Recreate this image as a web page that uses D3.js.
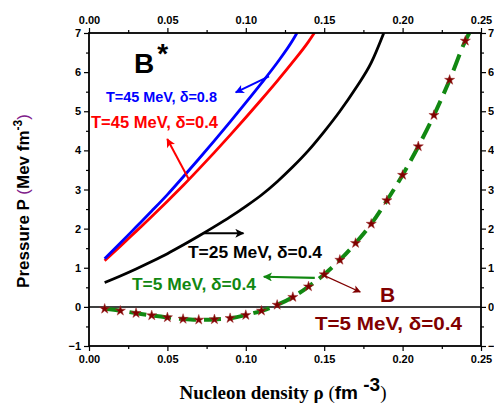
<!DOCTYPE html>
<html>
<head>
<meta charset="utf-8">
<script src="https://cdn.jsdelivr.net/npm/d3@7"></script>
<style>
  body { margin: 0; background: #fff; }
  svg { display: block; }
</style>
</head>
<body>
<div id="chart-area"></div>
<script>
// density values (fm^-3) and pressure (MeV fm^-3)
var rhoBlue = [0.01, 0.02, 0.03, 0.04, 0.05, 0.06, 0.07, 0.08, 0.09, 0.10, 0.11, 0.12, 0.13, 0.1326];
var pBlue   = [1.23, 1.63, 2.04, 2.45, 2.87, 3.32, 3.78, 4.25, 4.73, 5.22, 5.72, 6.24, 6.82, 7.0];

var rhoRed = [0.01, 0.02, 0.03, 0.04, 0.05, 0.06, 0.07, 0.08, 0.09, 0.10, 0.11, 0.12, 0.13, 0.14, 0.1437];
var pRed   = [1.18, 1.55, 1.93, 2.31, 2.70, 3.10, 3.52, 3.95, 4.39, 4.84, 5.30, 5.77, 6.26, 6.78, 7.0];

var rhoBlack = [0.01, 0.02, 0.03, 0.04, 0.05, 0.06, 0.07, 0.08, 0.09, 0.10, 0.11, 0.12, 0.13, 0.14, 0.15, 0.16, 0.17, 0.18, 0.188];
var pBlack   = [0.62, 0.79, 0.97, 1.16, 1.36, 1.58, 1.81, 2.05, 2.30, 2.57, 2.86, 3.20, 3.58, 4.00, 4.48, 5.00, 5.58, 6.24, 7.0];

var rhoGreen = [0.01, 0.02, 0.03, 0.04, 0.05, 0.06, 0.07, 0.08, 0.09, 0.10, 0.11, 0.12, 0.13, 0.14, 0.15, 0.16, 0.17, 0.18, 0.19, 0.20, 0.21, 0.22, 0.23, 0.24, 0.2425];
var pGreen   = [-0.05, -0.10, -0.16, -0.22, -0.27, -0.31, -0.33, -0.32, -0.29, -0.21, -0.10, 0.05, 0.25, 0.52, 0.83, 1.20, 1.63, 2.12, 2.72, 3.37, 4.10, 4.90, 5.80, 6.80, 7.0];

var rhoStar = [0.01, 0.02, 0.03, 0.04, 0.05, 0.06, 0.07, 0.08, 0.09, 0.10, 0.11, 0.12, 0.13, 0.14, 0.15, 0.16, 0.17, 0.18, 0.19, 0.20, 0.21, 0.22, 0.23, 0.24];
var pStar   = [-0.05, -0.10, -0.16, -0.22, -0.27, -0.31, -0.33, -0.32, -0.29, -0.21, -0.10, 0.05, 0.25, 0.52, 0.83, 1.20, 1.63, 2.12, 2.72, 3.37, 4.10, 4.90, 5.80, 6.80];

var xTicks = [0, 0.05, 0.10, 0.15, 0.20, 0.25];
var xMinor = [0.025, 0.075, 0.125, 0.175, 0.225];
var yTicks = [-1, 0, 1, 2, 3, 4, 5, 6, 7];
var yMinor = [-0.5, 0.5, 1.5, 2.5, 3.5, 4.5, 5.5, 6.5];

var W = 494, H = 405;
var margin = { top: 33, right: 13, bottom: 59, left: 89 };
var width = W - margin.left - margin.right;
var height = H - margin.top - margin.bottom;

var svg = d3.select("#chart-area")
  .append("svg")
  .attr("width", W)
  .attr("height", H);

var defs = svg.append("defs");
defs.append("clipPath").attr("id", "plot-clip")
  .append("rect").attr("width", width).attr("height", height);

function marker(id, color, w, h) {
  defs.append("marker")
    .attr("id", id)
    .attr("viewBox", "0 0 10 10")
    .attr("refX", 9).attr("refY", 5)
    .attr("markerUnits", "userSpaceOnUse")
    .attr("markerWidth", w).attr("markerHeight", h)
    .attr("orient", "auto")
    .append("path")
    .attr("d", "M0,0 L10,5 L0,10 L2.5,5 Z")
    .attr("fill", color);
}
marker("arr-blue", "#0000ff", 12, 9);
marker("arr-red", "#ff0000", 12, 9);
marker("arr-black", "#000", 13, 9);
marker("arr-green", "#118811", 13, 9);
marker("arr-dred", "#800000", 11, 8);

var g = svg.append("g")
  .attr("transform", "translate(" + margin.left + "," + margin.top + ")");

var x = d3.scaleLinear().domain([0, 0.25]).range([0, width]);
var y = d3.scaleLinear().domain([-1, 7]).range([height, 0]);

// axes: major ticks with labels, minor ticks without
function styleAxis(sel) {
  sel.select(".domain").remove();
  sel.selectAll("line").attr("stroke", "#000").attr("stroke-width", 1.2);
  sel.selectAll("text")
    .attr("font-family", "Liberation Sans, Arial, sans-serif")
    .attr("font-weight", "bold")
    .attr("font-size", "11px")
    .attr("fill", "#000");
}

g.append("g").attr("transform", "translate(0," + height + ")")
  .call(d3.axisBottom(x).tickValues(xTicks).tickFormat(d3.format(".2f")).tickSize(5).tickPadding(4))
  .call(styleAxis);
g.append("g").attr("transform", "translate(0," + height + ")")
  .call(d3.axisBottom(x).tickValues(xMinor).tickFormat("").tickSize(3))
  .call(styleAxis);
g.append("g")
  .call(d3.axisTop(x).tickValues(xTicks).tickFormat(d3.format(".2f")).tickSize(5).tickPadding(4))
  .call(styleAxis);
g.append("g")
  .call(d3.axisTop(x).tickValues(xMinor).tickFormat("").tickSize(3))
  .call(styleAxis);
g.append("g")
  .call(d3.axisLeft(y).tickValues(yTicks).tickFormat(d3.format("d")).tickSize(5).tickPadding(3))
  .call(styleAxis);
g.append("g")
  .call(d3.axisLeft(y).tickValues(yMinor).tickFormat("").tickSize(3))
  .call(styleAxis);
g.append("g").attr("transform", "translate(" + width + ",0)")
  .call(d3.axisRight(y).tickValues(yTicks).tickFormat(d3.format("d")).tickSize(5).tickPadding(2))
  .call(styleAxis);
g.append("g").attr("transform", "translate(" + width + ",0)")
  .call(d3.axisRight(y).tickValues(yMinor).tickFormat("").tickSize(3))
  .call(styleAxis);

// zero line
g.append("line")
  .attr("x1", 0).attr("x2", width)
  .attr("y1", y(0)).attr("y2", y(0))
  .attr("stroke", "#000").attr("stroke-width", 1.5);

var plot = g.append("g").attr("clip-path", "url(#plot-clip)");

var line = d3.line()
  .x(d => x(d[0]))
  .y(d => y(d[1]))
  .curve(d3.curveMonotoneX);

function zip(a, b) { return a.map((v, i) => [v, b[i]]); }

plot.append("path").datum(zip(rhoBlack, pBlack))
  .attr("d", line).attr("fill", "none").attr("stroke", "#000").attr("stroke-width", 2.8);
plot.append("path").datum(zip(rhoRed, pRed))
  .attr("d", line).attr("fill", "none").attr("stroke", "#ff0000").attr("stroke-width", 2.8);
plot.append("path").datum(zip(rhoBlue, pBlue))
  .attr("d", line).attr("fill", "none").attr("stroke", "#0000ff").attr("stroke-width", 2.8);
plot.append("path").datum(zip(rhoGreen, pGreen))
  .attr("d", line).attr("fill", "none").attr("stroke", "#118811").attr("stroke-width", 4)
  .attr("stroke-dasharray", "17,8");

plot.selectAll(".star")
  .data(zip(rhoStar, pStar))
  .enter()
  .append("path")
  .attr("class", "star")
  .attr("transform", d => "translate(" + x(d[0]) + "," + y(d[1]) + ")")
  .attr("d", d3.symbol(d3.symbolStar).size(32))
  .attr("fill", "#800000")
  .attr("stroke", "#a03030")
  .attr("stroke-width", 0.5);

// arrows, in data coordinates [from, to]
var arrows = [
  { from: [0.1148, 5.89], to: [0.0936, 5.48], color: "#0000ff", w: 2, m: "arr-blue" },
  { from: [0.0638, 3.25], to: [0.0499, 4.29], color: "#ff0000", w: 2, m: "arr-red" },
  { from: [0.0733, 1.88], to: [0.0985, 1.88], color: "#000", w: 2, m: "arr-black" },
  { from: [0.1440, 0.74], to: [0.1115, 0.77], color: "#118811", w: 2.2, m: "arr-green" },
  { from: [0.1494, 0.81], to: [0.1730, 0.38], color: "#800000", w: 1.3, m: "arr-dred" }
];
g.selectAll(".arrow")
  .data(arrows)
  .enter()
  .append("line")
  .attr("x1", d => x(d.from[0])).attr("y1", d => y(d.from[1]))
  .attr("x2", d => x(d.to[0])).attr("y2", d => y(d.to[1]))
  .attr("stroke", d => d.color)
  .attr("stroke-width", d => d.w)
  .attr("marker-end", d => "url(#" + d.m + ")");

// curve labels (left x, baseline y in data units)
var labels = [
  { t: "T=45 MeV, \u03b4=0.8", at: [0.0108, 5.236], color: "#0000ff", size: 15, len: 111 },
  { t: "T=45 MeV, \u03b4=0.4", at: [0.0013, 4.572], color: "#ff0000", size: 16, len: 127 },
  { t: "T=25 MeV, \u03b4=0.4", at: [0.0631, 1.249], color: "#000", size: 16, len: 134 },
  { t: "T=5 MeV, \u03b4=0.4", at: [0.0274, 0.431], color: "#118811", size: 16, len: 124 },
  { t: "T=5 MeV, \u03b4=0.4", at: [0.1441, -0.591], color: "#800000", size: 18, len: 147 }
];
g.selectAll(".lab")
  .data(labels)
  .enter()
  .append("text")
  .attr("x", d => x(d.at[0]))
  .attr("y", d => y(d.at[1]))
  .attr("font-family", "Liberation Sans, Arial, sans-serif")
  .attr("font-weight", "bold")
  .attr("font-size", d => d.size + "px")
  .attr("fill", d => d.color)
  .attr("textLength", d => d.len)
  .attr("lengthAdjust", "spacingAndGlyphs")
  .text(d => d.t);

// B* and B
var bStar = g.append("text")
  .attr("x", x(0.0287)).attr("y", y(5.98))
  .attr("font-family", "Liberation Sans, Arial, sans-serif")
  .attr("font-weight", "bold")
  .attr("font-size", "28px");
bStar.append("tspan").text("B");
bStar.append("tspan").attr("dx", 3).attr("dy", -10).text("*");

g.append("text")
  .attr("x", x(0.1856)).attr("y", y(0.125))
  .attr("font-family", "Liberation Sans, Arial, sans-serif")
  .attr("font-weight", "bold")
  .attr("font-size", "21px")
  .attr("fill", "#800000")
  .text("B");

// y axis title
var yt = svg.append("text")
  .attr("transform", "translate(29," + 201 + ") rotate(-90)")
  .attr("text-anchor", "middle")
  .attr("font-family", "Liberation Sans, Arial, sans-serif")
  .attr("font-weight", "bold")
  .attr("font-size", "17px")
  .attr("fill", "#000");
yt.append("tspan").text("Pressure P ");
yt.append("tspan").attr("font-weight", "normal").attr("fill", "#80208a").text("(");
yt.append("tspan").text("Mev fm");
yt.append("tspan").attr("dy", -7).attr("font-size", "12px").text("-3");
yt.append("tspan").attr("dy", 7).attr("font-weight", "normal").attr("fill", "#80208a").text(")");

// x axis title
var xt = svg.append("text")
  .attr("x", 283).attr("y", 399)
  .attr("text-anchor", "middle")
  .attr("fill", "#000");
xt.append("tspan").attr("font-family", "Liberation Serif, Times New Roman, serif")
  .attr("font-weight", "bold").attr("font-size", "19px").text("Nucleon density \u03c1 ");
xt.append("tspan").attr("font-family", "Liberation Serif, Times New Roman, serif")
  .attr("font-size", "19px").text("(");
xt.append("tspan").attr("font-family", "Liberation Sans, Arial, sans-serif")
  .attr("font-weight", "bold").attr("font-size", "19px").text("fm ");
xt.append("tspan").attr("font-family", "Liberation Sans, Arial, sans-serif")
  .attr("font-weight", "bold").attr("font-size", "19px").attr("dy", -8).text("-3");
xt.append("tspan").attr("font-family", "Liberation Serif, Times New Roman, serif")
  .attr("font-size", "19px").attr("dy", 8).text(")");

// frame
g.append("rect")
  .attr("width", width).attr("height", height)
  .attr("fill", "none").attr("stroke", "#000").attr("stroke-width", 1.8);
</script>
</body>
</html>
